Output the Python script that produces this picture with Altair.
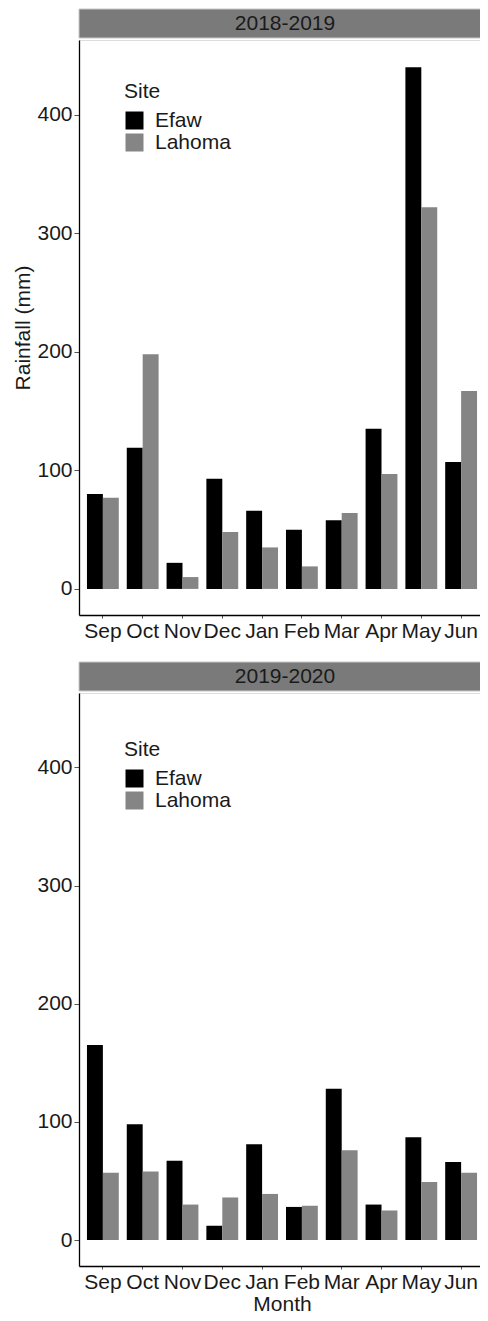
import altair as alt
import pandas as pd

months = ["Sep", "Oct", "Nov", "Dec", "Jan", "Feb", "Mar", "Apr", "May", "Jun"]
sites = ["Efaw", "Lahoma"]
seasons = ["2018-2019", "2019-2020"]
efaw_2018 = [80, 119, 22, 93, 66, 50, 58, 135, 440, 107]
lahoma_2018 = [77, 198, 10, 48, 35, 19, 64, 97, 322, 167]
efaw_2019 = [165, 98, 67, 12, 81, 28, 128, 30, 87, 66]
lahoma_2019 = [57, 58, 30, 36, 39, 29, 76, 25, 49, 57]
y_ticks = [0, 100, 200, 300, 400]

series = {
    "2018-2019": {"Efaw": efaw_2018, "Lahoma": lahoma_2018},
    "2019-2020": {"Efaw": efaw_2019, "Lahoma": lahoma_2019},
}
rows = []
for season in seasons:
    for site in sites:
        for m, v in zip(months, series[season][site]):
            rows.append({"Season": season, "Site": site, "Month": m, "Rainfall": v})
df = pd.DataFrame(rows)

W = 406
FONT = "Liberation Sans"
TXT = "#1a1a1a"
STRIP = "#7a7a7a"


def panel(season, show_ytitle, show_xtitle, legend_y, h):
    d = df[df["Season"] == season]
    bars = alt.Chart(d).mark_bar().encode(
        x=alt.X(
            "Month:N",
            sort=months,
            scale=alt.Scale(paddingInner=0.2, paddingOuter=0.2),
            axis=alt.Axis(
                title="Month" if show_xtitle else None,
                labelAngle=0,
                tickSize=3,
                labelPadding=2,
                titlePadding=1,
            ),
        ),
        xOffset=alt.XOffset("Site:N", sort=sites),
        y=alt.Y(
            "Rainfall:Q",
            scale=alt.Scale(domain=[-22, 463], nice=False, zero=False),
            axis=alt.Axis(
                title="Rainfall (mm)",
                titleOpacity=1 if show_ytitle else 0,
                values=y_ticks,
                tickSize=5,
                labelPadding=2,
                titlePadding=3,
                grid=False,
            ),
        ),
        y2=alt.datum(0),
        color=alt.Color(
            "Site:N",
            sort=sites,
            scale=alt.Scale(domain=sites, range=["#000000", "#858585"]),
            legend=alt.Legend(
                title="Site",
                orient="none",
                legendX=45,
                legendY=legend_y,
                symbolType="square",
                symbolSize=324,
                symbolStrokeWidth=0,
                symbolOpacity=1,
                labelOffset=10,
                rowPadding=0,
                titlePadding=8,
                padding=0,
            ),
        ),
    )
    lab = pd.DataFrame({"label": [season]})
    strip = alt.Chart(lab).mark_rect(color=STRIP, stroke="#c8c8c8", strokeWidth=1).encode(
        x=alt.value(0), x2=alt.value(W + 20), y=alt.value(-31), y2=alt.value(-2)
    )
    strip_text = alt.Chart(lab).mark_text(
        fontSize=21, font=FONT, color=TXT, baseline="middle", align="center"
    ).encode(x=alt.value(206), y=alt.value(-16), text="label:N")
    return alt.layer(strip, bars, strip_text).properties(width=W, height=h)


top = panel("2018-2019", True, False, 41, 575)
bottom = panel("2019-2020", False, True, 46, 573)

chart = (
    alt.vconcat(top, bottom, spacing=19)
    .resolve_scale(color="independent")
    .resolve_legend(color="independent")
    .properties(padding={"left": 4, "top": 0, "right": -26, "bottom": 1})
    .configure_view(stroke=None)
    .configure(font=FONT)
    .configure_axis(
        labelFont=FONT,
        titleFont=FONT,
        labelFontSize=21,
        titleFontSize=21,
        labelColor=TXT,
        titleColor=TXT,
        titleFontWeight="normal",
        domainColor="#000000",
        domainWidth=1.3,
        tickColor="#555555",
        tickWidth=1,
    )
    .configure_legend(
        labelFont=FONT,
        titleFont=FONT,
        labelFontSize=21,
        titleFontSize=21,
        labelColor=TXT,
        titleColor=TXT,
        titleFontWeight="normal",
    )
)

chart.save("out.html", embed_options={"renderer": "svg", "actions": False})
